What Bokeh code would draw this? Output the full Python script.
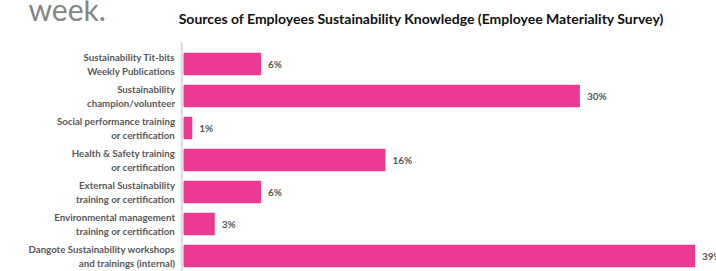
from bokeh.plotting import figure
from bokeh.models import ColumnDataSource, Range1d, Label
from bokeh.core.properties import value
from bokeh.embed import file_html
from bokeh.resources import INLINE

categories = [
    "Sustainability Tit-bits\nWeekly Publications",
    "Sustainability\nchampion/volunteer",
    "Social performance training\nor certification",
    "Health & Safety training\nor certification",
    "External Sustainability\ntraining or certification",
    "Environmental management\ntraining or certification",
    "Dangote Sustainability workshops\nand trainings (internal)",
]
values = [5.9, 30.0, 0.7, 15.3, 5.9, 2.4, 38.7]
value_labels = ["6%", "30%", "1%", "16%", "6%", "3%", "39%"]
title_text = "Sources of Employees Sustainability Knowledge (Employee Materiality Survey)"

W, H = 716, 271
px_per_unit = 13.23
x0_px = 182.5
x_start = -x0_px / px_per_unit
x_end = (W - x0_px) / px_per_unit
row_px = 32.0
y0_px = 63.5
y_top = -y0_px / row_px
y_bottom = (H - y0_px) / row_px

idx = list(range(len(categories)))
src = ColumnDataSource(dict(y=idx, v=values, cat=categories, lab=value_labels,
                            zero=[0] * len(idx)))

p = figure(width=W, height=H, output_backend="svg", toolbar_location=None,
           x_range=Range1d(x_start, x_end), y_range=Range1d(y_bottom, y_top),
           min_border=0, min_border_left=0, min_border_right=0,
           min_border_top=0, min_border_bottom=0)
p.outline_line_color = None
p.xaxis.visible = False
p.yaxis.visible = False
p.xgrid.visible = False
p.ygrid.visible = False
p.background_fill_color = "white"
p.border_fill_color = "white"

# axis line
p.segment(x0=[-0.09], y0=[(42 - y0_px) / row_px], x1=[-0.09], y1=[y_bottom + 1],
          line_color="#d9d9d9", line_width=2)

p.hbar(y="y", left=0.04, right="v", height=0.7, source=src,
       fill_color="#EC3A94", line_color=None)

p.text(x="zero", y="y", text="cat", source=src, x_offset=-8,
       text_align="right", text_baseline="middle",
       text_font=value("Lato"), text_font_style="bold",
       text_font_size="9.7px", text_color="#595959", text_line_height=1.1)

p.text(x="v", y="y", text="lab", source=src, x_offset=7,
       text_align="left", text_baseline="middle",
       text_font=value("Lato"), text_font_style="bold",
       text_font_size="10px", text_color="#595959")

p.add_layout(Label(x=421, y=H - 18, x_units="screen", y_units="screen",
                   text=title_text, text_align="center", text_baseline="middle",
                   text_font="Lato", text_font_style="bold",
                   text_font_size="14px", text_color="#111111"))

p.add_layout(Label(x=28, y=H - 8, x_units="screen", y_units="screen",
                   text="week.", text_align="left", text_baseline="alphabetic",
                   text_font="Lato", text_font_size="30px",
                   text_color="#858585"))

open("out.html", "w").write(file_html(p, INLINE))
